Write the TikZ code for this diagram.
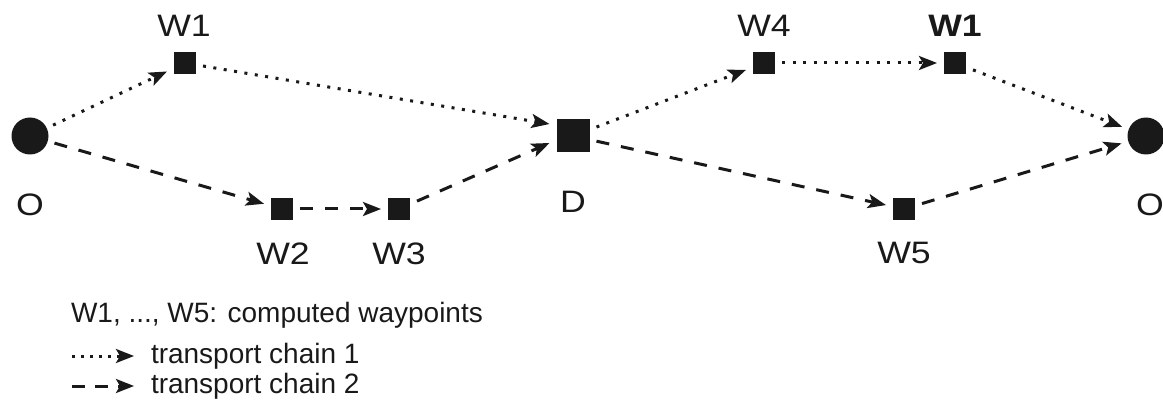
\documentclass[tikz,border=0pt]{standalone}
\usepackage{fontspec}
\setmainfont{Liberation Sans}
\newfontfamily\lblfam[FakeStretch=1.15]{Liberation Sans}
\usetikzlibrary{arrows.meta}
\newcommand\lblfont{\lblfam\fontsize{31}{36}\selectfont}
\newcommand\legfont{\fontsize{28}{34}\selectfont}
\begin{document}
\begin{tikzpicture}[x=1pt,y=-1pt,
  every node/.style={inner sep=0pt, outer sep=0pt},
  lbl/.style={font=\lblfont, text=black!90},
  leg/.style={font=\legfont, text=black!90, anchor=base west},
  wp/.style={fill=black!90, minimum size=22pt, outer sep=7pt},
  depot/.style={fill=black!90, minimum size=33pt, outer sep=7pt},
  origin/.style={circle, fill=black!90, minimum size=37pt, outer sep=7pt},
  tip/.style={-{Stealth[length=18pt,width=14pt,inset=4pt]}},
  chainone/.style={tip, draw=black!90, line width=3pt, dash pattern=on 3pt off 7.5pt},
  chaintwo/.style={tip, draw=black!90, line width=3pt, dash pattern=on 13pt off 12pt},
]
\useasboundingbox (0,0) rectangle (1163,401);

% nodes
\node[origin] (O1) at (30,136) {};
\node[wp] (W1) at (185,63) {};
\node[wp] (W2) at (282,209) {};
\node[wp] (W3) at (399,209) {};
\node[depot] (D) at (573,136) {};
\node[wp] (W4) at (764,63) {};
\node[wp] (W1b) at (955,63) {};
\node[wp] (W5) at (904,209) {};
\node[origin] (O2) at (1146,136) {};

% labels
\node[lbl] (lO1) at (30,205) {O};
\node[lbl] (lW1) at (184,26) {W1};
\node[lbl] (lW2) at (283,254) {W2};
\node[lbl] (lW3) at (399,254) {W3};
\node[lbl] (lD) at (573,202) {D};
\node[lbl] (lW4) at (764,26) {W4};
\node[lbl, font=\lblfont\bfseries] (lW1b) at (955,26) {W1};
\node[lbl] (lW5) at (904,253) {W5};
\node[lbl] (lO2) at (1150,205) {O};

% transport chain 1
\draw[chainone] (O1) -- (W1);
\draw[chainone] (W1) -- ([yshift=12pt]D.west);
\draw[chainone] (D) -- (W4);
\draw[chainone] (W4) -- (W1b);
\draw[chainone] (W1b) -- (O2);

% transport chain 2
\draw[chaintwo] (O1) -- (W2);
\draw[chaintwo] (W2) -- (W3);
\draw[chaintwo] (W3) -- ([yshift=-7pt]D.west);
\draw[chaintwo] (D) -- (W5);
\draw[chaintwo] (W5) -- (O2);

% legend
\node[leg] (leg0) at (71,322) {W1, ..., W5: computed waypoints};
\coordinate (a1s) at (72,356);
\coordinate (a1e) at (134,356);
\coordinate (a2s) at (72,386);
\coordinate (a2e) at (134,386);
\draw[chainone, dash pattern=on 3pt off 6pt] (a1s) -- (a1e);
\draw[chaintwo, dash pattern=on 13pt off 10pt] (a2s) -- (a2e);
\node[leg] (leg1) at (151,363) {transport chain 1};
\node[leg] (leg2) at (151,393) {transport chain 2};
\end{tikzpicture}
\end{document}
